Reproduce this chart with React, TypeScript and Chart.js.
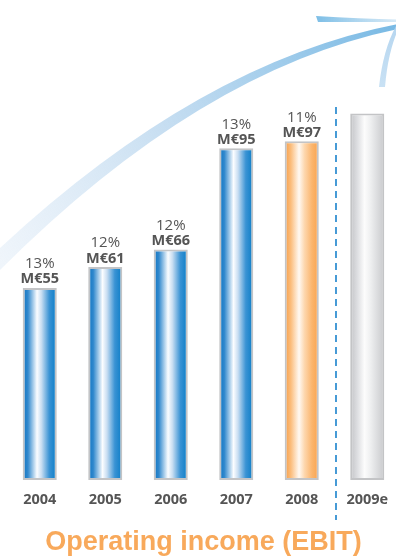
import React, { useEffect, useRef } from "react";
import { Chart, registerables } from "chart.js";

Chart.register(...registerables);

// ---- data ----
const years = ["2004", "2005", "2006", "2007", "2008", "2009e"];
const ebitValues = [55, 61, 66, 95, 97, 105];
const marginLabels = ["13%", "12%", "12%", "13%", "11%", ""];
const valueLabels = ["M€55", "M€61", "M€66", "M€95", "M€97", ""];
const barKinds = ["actual", "actual", "actual", "actual", "current", "forecast"];
const chartTitle = "Operating income (EBIT)";

const Y_MAX = 137.5;
const BAR_FRACTION = 0.52;

const palettes: Record<string, [number, string][]> = {
  actual: [
    [0, "#0f74c1"],
    [0.15, "#3088cd"],
    [0.42, "#fbfdff"],
    [0.55, "#c9def2"],
    [0.78, "#3a93d4"],
    [1, "#0a7cc6"],
  ],
  current: [
    [0, "#f79d45"],
    [0.18, "#fbbd7c"],
    [0.42, "#fff9f2"],
    [0.58, "#fdd7ae"],
    [0.8, "#fbb56d"],
    [1, "#f8a24e"],
  ],
  forecast: [
    [0, "#c2c3c6"],
    [0.2, "#dcdde0"],
    [0.42, "#fcfcfc"],
    [0.6, "#eeeff0"],
    [1, "#c8c9cc"],
  ],
};
const fallbackColor: Record<string, string> = {
  actual: "#3a93d4",
  current: "#fbb56d",
  forecast: "#dcdde0",
};

const decorPlugin = {
  id: "decor",
  beforeDatasetsDraw(chart: any) {
    const ctx = chart.ctx as CanvasRenderingContext2D;
    const area = chart.chartArea;
    ctx.save();
    // big swoosh arc
    const g = ctx.createLinearGradient(0, 260, 396, 25);
    g.addColorStop(0, "rgba(220,233,246,0.45)");
    g.addColorStop(0.45, "rgba(185,214,238,0.8)");
    g.addColorStop(1, "rgba(120,185,228,1)");
    ctx.fillStyle = g;
    ctx.beginPath();
    ctx.moveTo(0, 248);
    ctx.quadraticCurveTo(200, 62, 398, 24);
    ctx.lineTo(398, 29);
    ctx.quadraticCurveTo(200, 70, 0, 270);
    ctx.closePath();
    ctx.fill();

    // arrow head - horizontal feather
    const g2 = ctx.createLinearGradient(316, 0, 398, 0);
    g2.addColorStop(0, "rgba(125,190,230,1)");
    g2.addColorStop(1, "rgba(205,228,244,0.8)");
    ctx.fillStyle = g2;
    ctx.beginPath();
    ctx.moveTo(316, 16);
    ctx.quadraticCurveTo(360, 18.5, 398, 19.5);
    ctx.lineTo(398, 22);
    ctx.lineTo(318, 22);
    ctx.closePath();
    ctx.fill();

    // arrow head - vertical feather
    const g3 = ctx.createLinearGradient(0, 28, 0, 88);
    g3.addColorStop(0, "rgba(175,210,238,0.9)");
    g3.addColorStop(1, "rgba(195,222,243,0.9)");
    ctx.fillStyle = g3;
    ctx.beginPath();
    ctx.moveTo(396, 26);
    ctx.quadraticCurveTo(383, 50, 379, 87);
    ctx.lineTo(385, 87);
    ctx.quadraticCurveTo(388, 52, 398, 30);
    ctx.closePath();
    ctx.fill();

    // dashed separator between actuals and forecast
    const xs = chart.scales.x;
    const sepX = (xs.getPixelForValue(4) + xs.getPixelForValue(5)) / 2 + 1.5;
    ctx.strokeStyle = "#1a82cc";
    ctx.lineWidth = 1.6;
    ctx.setLineDash([7, 5]);
    ctx.beginPath();
    ctx.moveTo(sepX, area.top + 107);
    ctx.lineTo(sepX, area.bottom + 40);
    ctx.stroke();
    ctx.restore();
  },
  afterDatasetsDraw(chart: any) {
    const ctx = chart.ctx as CanvasRenderingContext2D;
    const meta = chart.getDatasetMeta(0);
    ctx.save();
    ctx.fillStyle = "#555555";
    ctx.textAlign = "center";
    ctx.textBaseline = "alphabetic";
    meta.data.forEach((el: any, i: number) => {
      if (!valueLabels[i]) return;
      ctx.font = "normal 15px 'Open Sans'";
      ctx.fillText(marginLabels[i], el.x, el.y - 19.7);
      ctx.font = "bold 14.5px 'Open Sans'";
      ctx.fillText(valueLabels[i], el.x, el.y - 4.5);
    });
    ctx.restore();
  },
};

export default function App() {
  const canvasRef = useRef<HTMLCanvasElement | null>(null);

  useEffect(() => {
    if (!canvasRef.current) return;
    const chart = new Chart(canvasRef.current, {
      type: "bar",
      data: {
        labels: years,
        datasets: [
          {
            data: ebitValues,
            backgroundColor: (c: any) => {
              const kind = barKinds[c.dataIndex] || "actual";
              const ch = c.chart;
              const xs = ch.scales && ch.scales.x;
              if (!xs || c.dataIndex == null) return fallbackColor[kind];
              const cx = xs.getPixelForValue(c.dataIndex);
              const w = (xs.width / years.length) * BAR_FRACTION;
              if (!isFinite(cx) || !isFinite(w) || w <= 0) return fallbackColor[kind];
              const grad = ch.ctx.createLinearGradient(cx - w / 2, 0, cx + w / 2, 0);
              palettes[kind].forEach(([o, col]) => grad.addColorStop(o, col));
              return grad;
            },
            borderColor: "#c3c4c6",
            borderWidth: 2,
            borderSkipped: false,
            categoryPercentage: 1,
            barPercentage: BAR_FRACTION,
          },
        ],
      },
      options: {
        responsive: false,
        animation: false,
        layout: { padding: { left: 7, right: 0, top: 0, bottom: 0 } },
        plugins: {
          legend: { display: false },
          tooltip: { enabled: false },
          title: {
            display: true,
            position: "bottom",
            text: chartTitle,
            color: "#F8A95B",
            font: { family: "'Liberation Sans', Arial, sans-serif", size: 27, weight: "bold", lineHeight: 1.15 },
            padding: 0,
          },
        },
        scales: {
          x: {
            grid: { display: false, drawTicks: false },
            border: { display: false },
            ticks: {
              color: "#555555",
              padding: 11,
              font: { family: "'Open Sans'", size: 14.5, weight: "bold" },
            },
            afterFit: (s: any) => {
              s.height = 47;
            },
          },
          y: {
            display: false,
            min: 0,
            max: Y_MAX,
          },
        },
      },
      plugins: [decorPlugin],
    });
    return () => chart.destroy();
  }, []);

  return (
    <div style={{ position: "absolute", left: 0, top: 0, width: 396, height: 558, overflow: "hidden", background: "#fff" }}>
      <canvas ref={canvasRef} width={400} height={558} style={{ width: 400, height: 558, display: "block" }} />
    </div>
  );
}
